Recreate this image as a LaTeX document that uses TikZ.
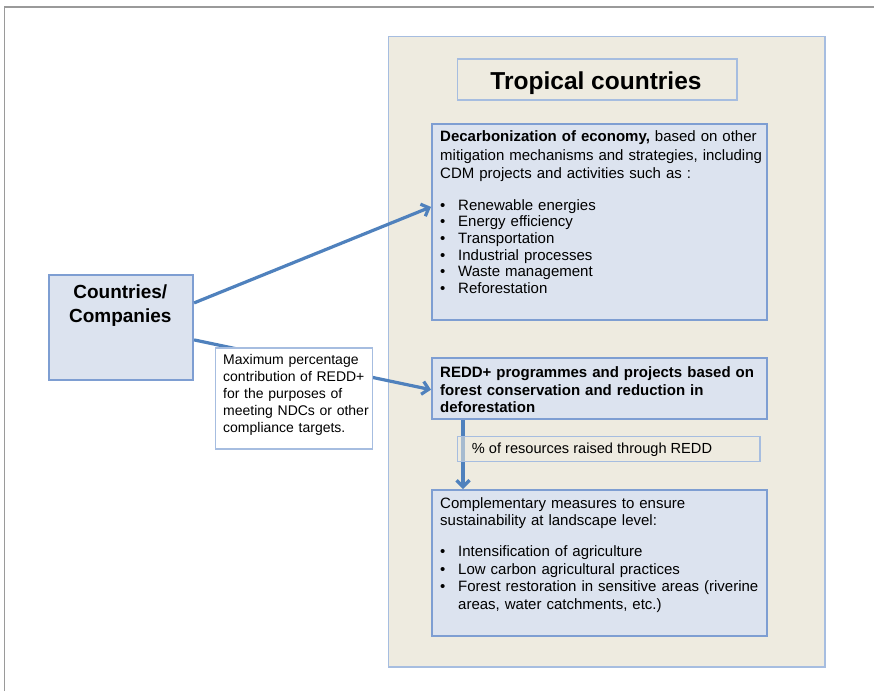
\documentclass[tikz,border=0pt]{standalone}
\usepackage{fontspec}
\setmainfont{Liberation Sans}
\usetikzlibrary{arrows.meta}
\definecolor{beige}{HTML}{EEEBE0}
\definecolor{bxfill}{HTML}{DCE3EF}
\definecolor{bxline}{HTML}{7E9ED2}
\definecolor{ltline}{HTML}{A6BDE0}
\definecolor{arrowc}{HTML}{4F81BD}
\definecolor{framec}{HTML}{9A9A9A}
\newcommand\bulmark{\makebox[18pt][l]{\textbullet}}
\begin{document}
\begin{tikzpicture}[x=1pt,y=-1pt,
  panel/.style={draw=ltline, fill=beige, line width=1.6pt, inner sep=0pt, anchor=north west},
  bluebox/.style={draw=bxline, fill=bxfill, line width=1.8pt, inner sep=0pt, anchor=north west},
  notebox/.style={draw=ltline, fill=white, line width=1.4pt, inner sep=0pt, anchor=north west},
  pctbox/.style={draw=ltline, fill=beige, fill opacity=0.55, line width=1.4pt, inner sep=0pt, anchor=north west},
  txt/.style={inner sep=0pt, anchor=base west, align=left, text width=#1},
  txt/.default=330pt,
  conn/.style={draw=arrowc, line width=3.2pt, -{Straight Barb[length=6.5pt,width=13pt]}},
]
\useasboundingbox (0,0) rectangle (874,691);
% page frame
\draw[framec, line width=1.8pt] (4.5,691) |- (874,7);

% big panel
\node[panel, minimum width=436.5pt, minimum height=630.5pt] (panel) at (387.5,35.8) {};
\node[panel, minimum width=279.5pt, minimum height=41pt] (titlebox) at (456.7,58.3) {};
\node[inner sep=0pt, anchor=base, font=\fontsize{24.5}{29}\selectfont\bfseries] (title) at (596,89.3) {Tropical countries};

% decarbonization box
\node[bluebox, minimum width=335pt, minimum height=196.6pt] (dec) at (431,122.7) {};
\node[txt, font=\fontsize{15}{18.5}\selectfont] (dect) at (440,141.7)
  {\textbf{Decarbonization of economy,} based on other\\mitigation mechanisms and strategies, including\\CDM projects and activities such as :};
\node[txt, font=\fontsize{15}{16.7}\selectfont] (decl) at (440,210)
  {\bulmark Renewable energies\\\bulmark Energy efficiency\\\bulmark Transportation\\\bulmark Industrial processes\\\bulmark Waste management\\\bulmark Reforestation};

% REDD box
\node[bluebox, minimum width=335pt, minimum height=61pt] (redd) at (431,357.3) {};
\node[txt, font=\fontsize{15}{17.8}\selectfont\bfseries] (reddt) at (440,377.3)
  {REDD+ programmes and projects based on\\forest conservation and reduction in\\deforestation};

% complementary box
\node[bluebox, minimum width=335pt, minimum height=146pt] (comp) at (431,489) {};
\node[txt, font=\fontsize{15}{17.4}\selectfont] (compt) at (440,508.3)
  {Complementary measures to ensure\\sustainability at landscape level:};
\node[txt, font=\fontsize{15}{17.5}\selectfont] (compl) at (440,556.7)
  {\bulmark Intensification of agriculture\\\bulmark Low carbon agricultural practices\\\bulmark Forest restoration in sensitive areas (riverine\\\hspace*{18pt}areas, water catchments, etc.)};

% countries box
\node[bluebox, minimum width=144pt, minimum height=105pt] (cc) at (48.3,274) {};
\node[inner sep=0pt, anchor=base, align=center, font=\fontsize{19}{24}\selectfont\bfseries] (cct) at (120.3,322) {Countries/\\Companies};

% connectors
\draw[conn] ([yshift=24.5pt]cc.east) -- ([yshift=15pt]dec.west);
\draw[conn] ([yshift=-12.5pt]cc.east) -- ([yshift=-1pt]redd.west);
\draw[conn] ([xshift=32pt]redd.south west) -- ([xshift=32pt]comp.north west);

% note box over connector
\node[notebox, minimum width=156.7pt, minimum height=101pt] (note) at (215,347.3) {};
\node[txt=150pt, font=\fontsize{14}{16.8}\selectfont] (notet) at (223,364.8)
  {Maximum percentage\\contribution of REDD+\\for the purposes of\\meeting NDCs or other\\compliance targets.};

% percentage box
\node[pctbox, minimum width=302.5pt, minimum height=25pt] (pct) at (456.7,436) {};
\node[inner sep=0pt, anchor=base west, font=\fontsize{14.6}{17}\selectfont] (pctt) at (471.7,453.3) {\% of resources raised through REDD};
\end{tikzpicture}
\end{document}
